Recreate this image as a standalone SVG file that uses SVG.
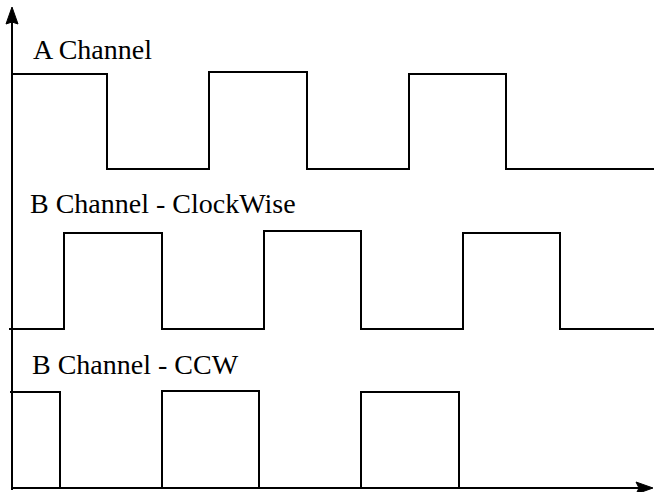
<svg xmlns="http://www.w3.org/2000/svg" width="654" height="492" viewBox="0 0 654 492">
  <style>
    .wave { fill: none; stroke: #000; stroke-width: 2; stroke-linejoin: miter; }
    .axis { fill: none; stroke: #000; stroke-width: 2; }
    .head { fill: #000; stroke: #000; stroke-width: 1; }
    .label { font-family: "Liberation Serif", "DejaVu Serif", serif; font-size: 28px; fill: #000; }
  </style>

  <!-- axes with arrowheads -->
  <g id="axes">
    <line class="axis" x1="12" y1="490" x2="12" y2="20"/>
    <path class="head" d="M12,7 L18,24 L12,22 L6,24 Z"/>
    <line class="axis" x1="12" y1="488" x2="642" y2="488"/>
    <path class="head" d="M653,488 L636,482 L639,488 L636,494 Z"/>
  </g>

  <!-- channel A -->
  <g id="channel-a">
    <text class="label" x="33" y="59">A Channel</text>
    <path class="wave" d="M12,74 H107 V169 H209 V72 H307 V169 H409 V74 H506 V169 H654"/>
  </g>

  <!-- channel B, clockwise rotation -->
  <g id="channel-b-cw">
    <text class="label" x="30" y="213">B Channel - ClockWise</text>
    <path class="wave" d="M9,329 H64 V233 H162 V329 H264 V231 H361 V329 H463 V233 H560 V329 H654"/>
  </g>

  <!-- channel B, counter-clockwise rotation -->
  <g id="channel-b-ccw">
    <text class="label" x="32" y="374">B Channel - CCW</text>
    <path class="wave" d="M10,392 H60 V488 M162,488 V391 H259 V488 M361,488 V392 H459 V488"/>
  </g>
</svg>
